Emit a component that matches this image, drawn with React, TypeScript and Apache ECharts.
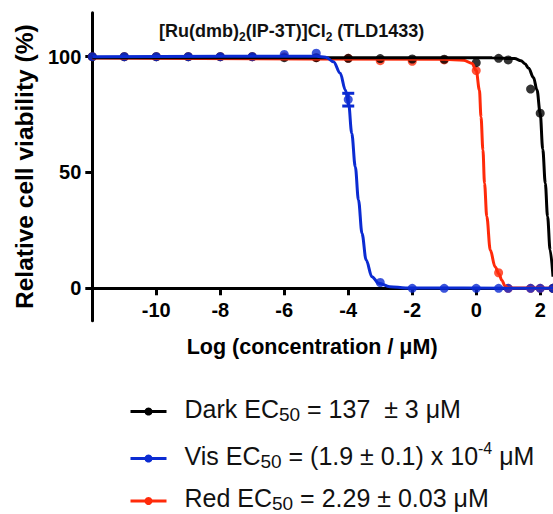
import React, { useEffect, useRef } from "react";
import * as echarts from "echarts";

// log10 of concentration (µM) of each tested dose
const logConc = [-12, -11, -10, -9, -8, -7, -6, -5, -4, -3, -2, -1, 0, 0.7, 1, 1.7, 2, 2.4];
// mean relative cell viability (%)
const darkViability = [100, 100, 100, 100, 100, 100, 99.6, 99.6, 99.3, 99.2, 99, 98.9, 97.4, 99.3, 98.6, 86, 75.6, 0];
const visViability = [100, 100, 100, 100, 100, 100, 101, 101.5, 81.5, 2.5, 0, 0, 0, 0, 0, 0, 0, 0];
const redViability = [100, 100, 100, 100, 100, 100, 100, 99.6, 99.3, 98.3, 98, 98.6, 94, 6.7, 0, 0, 0, 0];
// error bars: [logConc, low, high]
const visErrorBars = [[-4, 78.7, 84.2]];

// fitted dose-response curves as [logConc, viability]
const darkFit = [
  [-12, 99.6], [-4, 99.6], [0.5, 99.5], [1.2, 99.2], [1.4, 98.3], [1.52, 97], [1.64, 95],
  [1.79, 91], [1.9, 85.6], [2.0, 75.6], [2.08, 60], [2.16, 45.3], [2.23, 31], [2.31, 16.5], [2.4, 5],
];
const visFit = [
  [-12, 100], [-5, 100.2], [-4.7, 99.8], [-4.46, 97.8], [-4.25, 92.8], [-4.09, 85.6], [-3.99, 79.9],
  [-3.89, 66.9], [-3.78, 52.5], [-3.68, 38.1], [-3.57, 23.7], [-3.44, 12.2], [-3.26, 5], [-3.05, 2.2],
  [-2.7, 0.7], [-2.2, 0.1], [2.4, 0],
];
const redFit = [
  [-12, 99.4], [-1, 98.9], [-0.4, 98.5], [-0.13, 97.1], [0, 94], [0.1, 85.6], [0.15, 74], [0.21, 59.7],
  [0.26, 45.3], [0.33, 31], [0.44, 16.5], [0.59, 9.3], [0.71, 6.2], [0.8, 3.5], [0.9, 1], [1.0, 0.1], [2.4, 0],
];

const xTicks = [-10, -8, -6, -4, -2, 0, 2];
const yTicks = [0, 50, 100];

const seriesNames = ["Dark", "Vis", "Red"];
const legendLabels: Record<string, string> = {
  Dark: "{m|Dark EC}{sub|50}{m| = 137  ± 3 μM}",
  Vis: "{m|Vis EC}{sub|50}{m| = (1.9 ± 0.1) x 10}{sup|-4}{m| μM}",
  Red: "{m|Red EC}{sub|50}{m| = 2.29 ± 0.03 μM}",
};
const titleText = "{m|[Ru(dmb)}{s|2}{m|(IP-3T)]Cl}{s|2}{m| (TLD1433)}";
const xName = "Log (concentration / μM)";
const yName = "Relative cell viability (%)";

const FONT = "'Liberation Sans', Arial, Helvetica, sans-serif";
const BLACK = "#000000";
const BLUE = "#0b2bd2";
const RED = "#ff2a0a";

const Y_MIN = -14;
const Y_MAX = 119;
const GRID_TOP = 12.7;
const GRID_BOTTOM_PX = 320.7;
const pxPerUnitY = (GRID_BOTTOM_PX - GRID_TOP) / (Y_MAX - Y_MIN);

const pairs = (ys: number[]) => logConc.map((x, i) => [x, ys[i]]);

export default function App() {
  const ref = useRef<HTMLDivElement>(null);

  useEffect(() => {
    if (!ref.current) return;
    const chart = echarts.init(ref.current, null, { renderer: "svg" });

    const legendRich = {
      m: { fontFamily: FONT, fontSize: 25, lineHeight: 30, color: "#111" },
      sub: { fontFamily: FONT, fontSize: 19, lineHeight: 12, verticalAlign: "bottom", color: "#111" },
      sup: { fontFamily: FONT, fontSize: 16, lineHeight: 22, verticalAlign: "top", color: "#111" },
    };
    const legendTops = [396, 440.5, 485.5];
    const legends = seriesNames.map((name, i) => ({
      data: [name],
      left: 129,
      top: legendTops[i],
      padding: 0,
      orient: "horizontal",
      itemWidth: 36,
      itemHeight: 10,
      selectedMode: false,
      lineStyle: { width: 3 },
      formatter: (n: string) => legendLabels[n],
      textStyle: { padding: [0, 0, 6, 13], rich: legendRich },
    }));

    const lineSeries = (name: string, data: number[][], color: string) => ({
      name,
      type: "line",
      data,
      smooth: 0.35,
      smoothMonotone: "x",
      symbol: "circle",
      symbolSize: 8,
      showSymbol: false,
      lineStyle: { color, width: 3 },
      itemStyle: { color },
      silent: true,
    });
    const scatterSeries = (name: string, ys: number[], color: string) => ({
      name,
      type: "scatter",
      data: pairs(ys),
      symbol: "circle",
      symbolSize: 9,
      itemStyle: { color },
      silent: true,
    });

    // x axis sits at y = 0: shift it up from the grid bottom
    const xAxisOffset = -(0 - Y_MIN) * pxPerUnitY;

    chart.setOption({
      animation: false,
      backgroundColor: "#ffffff",
      title: {
        text: titleText,
        left: 159,
        top: 19,
        padding: 0,
        textStyle: {
          rich: {
            m: { fontFamily: FONT, fontSize: 18, fontWeight: "bold", lineHeight: 24, color: "#111" },
            s: { fontFamily: FONT, fontSize: 12, fontWeight: "bold", lineHeight: 11, verticalAlign: "bottom", color: "#111" },
          },
        },
      },
      legend: legends,
      grid: { left: 92.3, right: 0, top: GRID_TOP, bottom: 514 - GRID_BOTTOM_PX, containLabel: false },
      xAxis: {
        type: "value",
        min: -12,
        max: 2.4,
        position: "bottom",
        offset: xAxisOffset,
        name: xName,
        nameLocation: "middle",
        nameGap: 48,
        nameTextStyle: { fontFamily: FONT, fontSize: 21.5, fontWeight: "bold", color: "#000", padding: [0, 21, 0, 0] },
        axisLine: { onZero: false, lineStyle: { color: BLACK, width: 3 } },
        axisTick: { show: true, length: 7, lineStyle: { color: BLACK, width: 3 }, customValues: xTicks },
        axisLabel: { fontFamily: FONT, fontSize: 20, fontWeight: "bold", color: "#000", margin: 12, customValues: xTicks },
        splitLine: { show: false },
      },
      yAxis: {
        type: "value",
        min: Y_MIN,
        max: Y_MAX,
        name: yName,
        nameLocation: "middle",
        nameGap: 55,
        nameTextStyle: { fontFamily: FONT, fontSize: 24.5, fontWeight: "bold", color: "#000" },
        axisLine: { show: true, onZero: false, lineStyle: { color: BLACK, width: 3 } },
        axisTick: { show: true, length: 7, lineStyle: { color: BLACK, width: 3 }, customValues: yTicks },
        axisLabel: { fontFamily: FONT, fontSize: 20, fontWeight: "bold", color: "#000", margin: 11, customValues: yTicks },
        splitLine: { show: false },
      },
      series: [
        lineSeries("Red", redFit, RED),
        scatterSeries("Red", redViability, RED),
        lineSeries("Dark", darkFit, BLACK),
        scatterSeries("Dark", darkViability, BLACK),
        lineSeries("Vis", visFit, BLUE),
        scatterSeries("Vis", visViability, BLUE),
        {
          name: "Vis error",
          type: "custom",
          data: visErrorBars,
          encode: { x: 0, y: [1, 2] },
          silent: true,
          renderItem: (_params: any, api: any) => {
            const x = api.value(0);
            const lo = api.coord([x, api.value(1)]);
            const hi = api.coord([x, api.value(2)]);
            const w = 6;
            const style = { stroke: BLUE, lineWidth: 3 };
            return {
              type: "group",
              children: [
                { type: "line", shape: { x1: lo[0], y1: lo[1], x2: hi[0], y2: hi[1] }, style },
                { type: "line", shape: { x1: lo[0] - w, y1: lo[1], x2: lo[0] + w, y2: lo[1] }, style },
                { type: "line", shape: { x1: hi[0] - w, y1: hi[1], x2: hi[0] + w, y2: hi[1] }, style },
              ],
            };
          },
        },
      ],
    });

    return () => chart.dispose();
  }, []);

  return (
    <div
      ref={ref}
      style={{ position: "absolute", left: 0, top: 0, width: 553, height: 514, background: "#fff" }}
    />
  );
}
